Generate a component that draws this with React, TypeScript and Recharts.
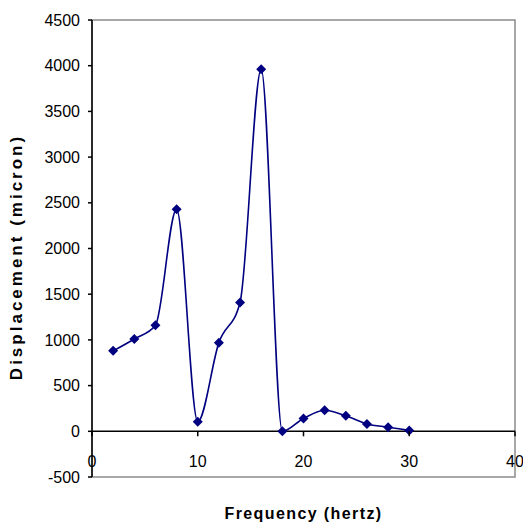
import { LineChart, Line, XAxis, YAxis, ReferenceLine, ReferenceArea } from 'recharts'

// frequency (hertz) vs displacement (micron)
const FREQUENCY = [2, 4, 6, 8, 10, 12, 14, 16, 18, 20, 22, 24, 26, 28, 30]
const DISPLACEMENT = [880, 1010, 1160, 2430, 105, 970, 1410, 3960, 0, 140, 230, 170, 80, 45, 10]
const X_TICKS = [0, 10, 20, 30, 40]
const Y_TICKS = [-500, 0, 500, 1000, 1500, 2000, 2500, 3000, 3500, 4000, 4500]

const data = FREQUENCY.map((f, i) => ({ f, d: DISPLACEMENT[i] }))

const W = 523
const H = 528
const X_AXIS_H = 1
const MARGIN = { top: 20, right: 8, bottom: 50, left: 0 }
const PLOT_H = H - MARGIN.top - MARGIN.bottom - X_AXIS_H
const Y_MIN = -500
const Y_MAX = 4500
// distance from the bottom of the plot up to the y=0 line
const ZERO_UP = (PLOT_H * (0 - Y_MIN)) / (Y_MAX - Y_MIN)

const FONT = '"Liberation Sans", Arial, sans-serif'
const NAVY = '#000080'

// eslint-disable-next-line @typescript-eslint/no-explicit-any
const Diamond = (props: any) => {
  const { cx, cy, index } = props
  if (cx == null || cy == null) return null
  const r = 5
  return (
    <polygon
      key={`dot-${index}`}
      points={`${cx},${cy - r} ${cx + r},${cy} ${cx},${cy + r} ${cx - r},${cy}`}
      fill={NAVY}
    />
  )
}

// x ticks sit on the zero line, not on the bottom edge
// eslint-disable-next-line @typescript-eslint/no-explicit-any
const XTick = (props: any) => {
  const { x, y, payload } = props
  const y0 = y - ZERO_UP
  return (
    <g>
      <line x1={x} x2={x} y1={y0} y2={y0 + 5} stroke="#000" strokeWidth={1.5} />
      <text x={x} y={y0 + 36} textAnchor="middle" fontSize={16} fontFamily={FONT} fill="#000">
        {payload.value}
      </text>
    </g>
  )
}

const YTitle = () => (
  <text
    x={16}
    y={257}
    transform="rotate(-90 16 257)"
    textAnchor="middle"
    dominantBaseline="central"
    fontSize={17}
    fontWeight="bold"
    fontFamily={FONT}
    letterSpacing={3}
    fill="#000"
  >
    Displacement (micron)
  </text>
)

export default function App() {
  return (
    <div style={{ position: 'absolute', left: 0, top: 0, background: '#fff' }}>
      <LineChart width={W} height={H} data={data} margin={MARGIN}>
        <ReferenceArea
          x1={0}
          x2={40}
          y1={Y_MIN}
          y2={Y_MAX}
          stroke="#8c8c8c"
          strokeWidth={1.5}
          fill="none"
          fillOpacity={0}
        />
        <XAxis
          dataKey="f"
          type="number"
          domain={[0, 40]}
          ticks={X_TICKS}
          height={X_AXIS_H}
          axisLine={false}
          tickLine={false}
          tickSize={0}
          tickMargin={0}
          tick={<XTick />}
          interval={0}
          label={{
            value: 'Frequency (hertz)',
            position: 'bottom',
            offset: 30,
            fontSize: 16,
            fontWeight: 'bold',
            fontFamily: FONT,
            fill: '#000',
            letterSpacing: 1.4,
          }}
        />
        <YAxis
          type="number"
          domain={[Y_MIN, Y_MAX]}
          ticks={Y_TICKS}
          width={92}
          axisLine={{ stroke: '#000', strokeWidth: 1.5 }}
          tickLine={{ stroke: '#000', strokeWidth: 1.5 }}
          tickSize={4}
          tickMargin={8}
          interval={0}
          tick={{ fontSize: 16, fontFamily: FONT, fill: '#000' }}
          label={<YTitle />}
        />
        <ReferenceLine y={0} stroke="#000" strokeWidth={1.5} />
        <Line
          dataKey="d"
          type="monotone"
          stroke={NAVY}
          strokeWidth={1.6}
          dot={<Diamond />}
          activeDot={false}
          isAnimationActive={false}
        />
      </LineChart>
    </div>
  )
}
